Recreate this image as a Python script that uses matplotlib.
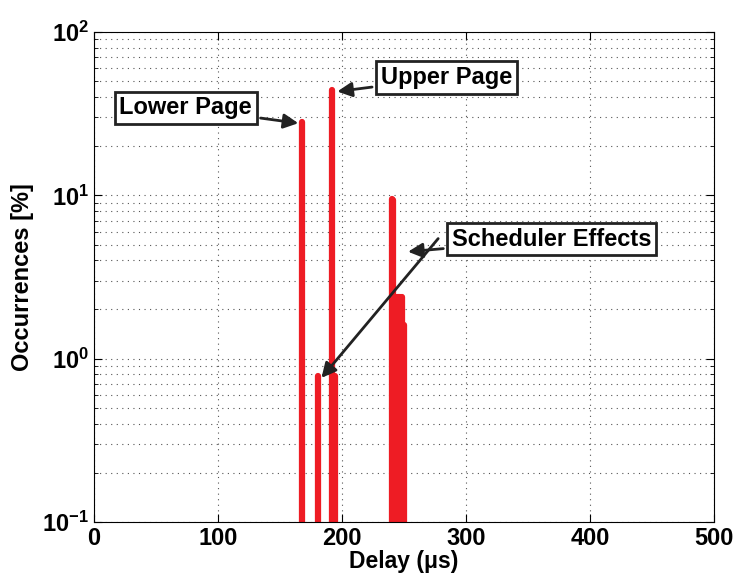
import matplotlib
matplotlib.use("Agg")
from matplotlib import pyplot as plt
import numpy

# delay bins (us) and occurrence (%)
delay = [168, 181, 192, 194, 240, 241, 242, 243, 244, 245, 246, 247, 248, 250]
occurrence = [28, 0.78, 44, 0.78, 9.5, 9.3, 2.4, 2.4, 2.4, 2.4, 2.4, 2.4, 2.4, 1.6]

xticks = [0, 100, 200, 300, 400, 500]

plt.rcParams['font.family'] = ['Liberation Sans', 'DejaVu Sans']
plt.rcParams['font.weight'] = 'bold'

fig = plt.figure(figsize=(7.41, 5.83), dpi=100)
ax = fig.add_axes([94 / 741, 1 - 522 / 583, 620 / 741, 490 / 583])

ax.vlines(delay, 1e-3, occurrence, colors='#ee1c24', linewidth=4.5, capstyle='round')

ax.set_yscale('log')
ax.set_xlim(0, 500)
ax.set_ylim(0.1, 100)
ax.set_xticks(xticks)
ax.tick_params(which='both', direction='in', top=True, right=True, labelsize=17)
ax.tick_params(which='major', length=6)
ax.tick_params(which='minor', length=3)
for lab in ax.get_xticklabels() + ax.get_yticklabels():
    lab.set_fontweight('bold')
ax.grid(True, which='major', linestyle=(0, (1, 4)), color='#555555', linewidth=0.8)
ax.grid(True, which='minor', axis='y', linestyle=(0, (1, 4)), color='#555555', linewidth=0.8)
ax.set_axisbelow(True)

ax.set_xlabel('Delay (\u03bcs)', fontsize=16.5, fontweight='bold', labelpad=0)
ax.set_ylabel('Occurrences [%]', fontsize=17, fontweight='bold', labelpad=6)

box = dict(boxstyle='square,pad=0.2', fc='white', ec='#222222', lw=2)
arr = dict(arrowstyle='-|>', color='#222222', lw=2, mutation_scale=22)

ax.annotate('Lower Page', xy=(167, 27.5), xytext=(74, 34.3), fontsize=17, fontweight='bold',
            bbox=box, arrowprops=arr, va='center', ha='center')
ax.annotate('Upper Page', xy=(194, 43), xytext=(284, 52.6), fontsize=17, fontweight='bold',
            bbox=box, arrowprops=arr, va='center', ha='center')
ax.annotate('Scheduler Effects', xy=(251, 4.5), xytext=(369, 5.4), fontsize=17, fontweight='bold',
            bbox=box, arrowprops=arr, va='center', ha='center')
ax.annotate('', xy=(182, 0.74), xytext=(279, 5.6), arrowprops=arr)

fig.savefig('out.png', dpi=100)
